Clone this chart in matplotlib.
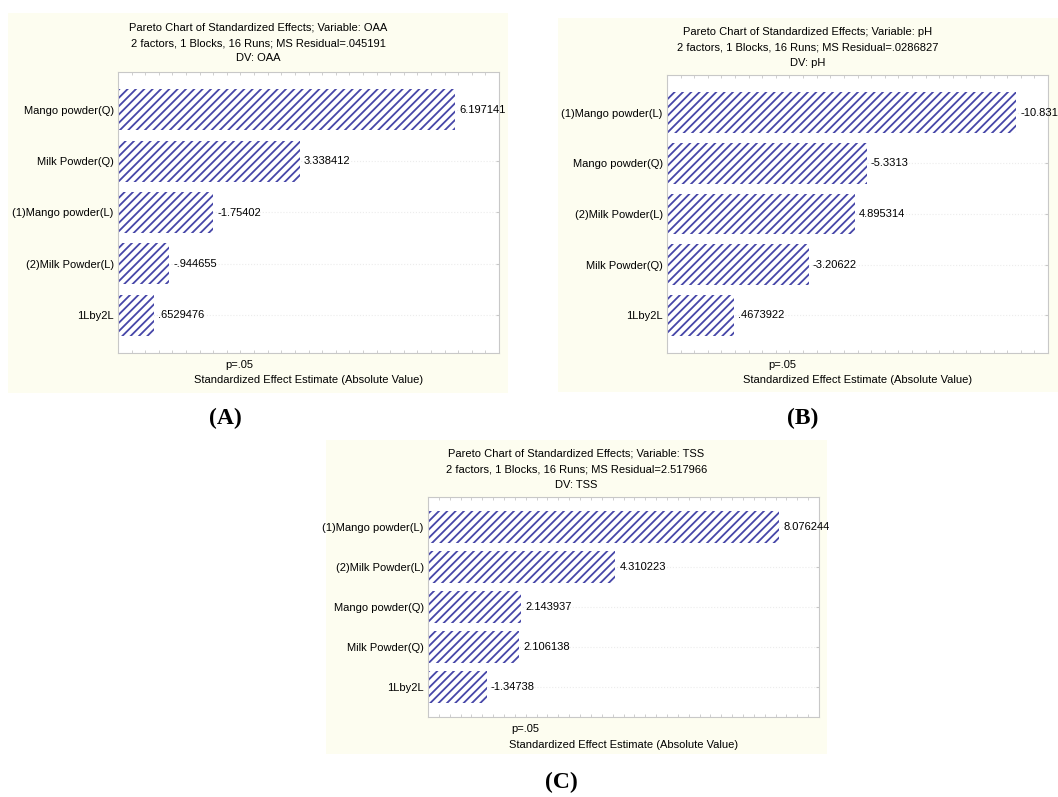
import matplotlib
matplotlib.use("Agg")
import matplotlib.pyplot as plt
from matplotlib.patches import Rectangle
from matplotlib.ticker import MultipleLocator

plt.rcParams["font.family"] = ["Liberation Sans", "DejaVu Sans"]
plt.rcParams["hatch.linewidth"] = 1.3

W, H = 1058, 797

# ---------------------------------------------------------------- data
p_crit = 2.228          # t(0.975, 10 df) -> "p=.05"

oaa_terms = ["Mango powder(Q)", "Milk Powder(Q)", "(1)Mango powder(L)",
             "(2)Milk Powder(L)", "1Lby2L"]
oaa_effects = [6.197141, 3.338412, -1.75402, -0.944655, 0.6529476]
oaa_labels = ["6.197141", "3.338412", "-1.75402", "-.944655", ".6529476"]

ph_terms = ["(1)Mango powder(L)", "Mango powder(Q)", "(2)Milk Powder(L)",
            "Milk Powder(Q)", "1Lby2L"]
ph_effects = [-10.8318, -5.3313, 4.895314, -3.20622, 0.4673922]
ph_labels = ["-10.8318", "-5.3313", "4.895314", "-3.20622", ".4673922"]

tss_terms = ["(1)Mango powder(L)", "(2)Milk Powder(L)", "Mango powder(Q)",
             "Milk Powder(Q)", "1Lby2L"]
tss_effects = [8.076244, 4.310223, 2.143937, 2.106138, -1.34738]
tss_labels = ["8.076244", "4.310223", "2.143937", "2.106138", "-1.34738"]

panels = [
    dict(var="OAA", ms=".045191", terms=oaa_terms, eff=oaa_effects,
         lab=oaa_labels, xlim=(0, 7), minor=0.25, tag="(A)",
         bg=(8, 13, 508, 393), ax=(118, 72, 499, 353), tag_xy=(225, 418)),
    dict(var="pH", ms=".0286827", terms=ph_terms, eff=ph_effects,
         lab=ph_labels, xlim=(-2, 12), minor=0.5, tag="(B)",
         bg=(558, 18, 1058, 392), ax=(667, 75, 1048, 353), tag_xy=(803, 418)),
    dict(var="TSS", ms="2.517966", terms=tss_terms, eff=tss_effects,
         lab=tss_labels, xlim=(0, 9), minor=0.25, tag="(C)",
         bg=(326, 440, 827, 754), ax=(428, 497, 819, 717), tag_xy=(561, 782)),
]

BG = "#fdfdf0"
BAR = "#4646a8"
FRAME = "#c8c8c8"
FS = 8


def fx(x):
    return x / W


def fy(y):
    return 1 - y / H


fig = plt.figure(figsize=(W / 100, H / 100), dpi=100)
fig.patch.set_facecolor("white")

for p in panels:
    bx1, by1, bx2, by2 = p["bg"]
    fig.patches.append(Rectangle((fx(bx1), fy(by2)), fx(bx2 - bx1), (by2 - by1) / H,
                                 transform=fig.transFigure, facecolor=BG,
                                 edgecolor="none", zorder=-5))
    ax1, ay1, ax2, ay2 = p["ax"]
    ax = fig.add_axes([fx(ax1), fy(ay2), fx(ax2 - ax1), (ay2 - ay1) / H])
    ax.set_facecolor("white")
    ax.set_zorder(2)

    n = len(p["terms"])
    ypos = list(range(n))
    x0 = p["xlim"][0]
    widths = [abs(v) - x0 for v in p["eff"]]
    ax.barh(ypos, widths, left=x0, height=0.8, color="white",
            edgecolor=BAR, linewidth=0, hatch="////", zorder=2)
    for y, v, s in zip(ypos, p["eff"], p["lab"]):
        ax.annotate(s, (abs(v), y), xytext=(3, 0), textcoords="offset points",
                    va="center", ha="left", fontsize=FS, annotation_clip=False)

    ax.set_xlim(*p["xlim"])
    ax.set_ylim(n - 0.26, -0.74)
    ax.set_yticks(ypos)
    ax.set_yticklabels(p["terms"], fontsize=FS)
    ax.set_xticks([p_crit])
    ax.set_xticklabels(["p=.05"], fontsize=FS)
    ax.xaxis.set_minor_locator(MultipleLocator(p["minor"]))
    ax.tick_params(axis="x", which="major", length=0, pad=5)
    ax.tick_params(axis="x", which="minor", direction="in", length=2.5,
                   color=FRAME, top=True, bottom=True)
    ax.tick_params(axis="y", which="major", direction="in", length=2.5,
                   color=FRAME, left=True, right=True, pad=3)
    ax.grid(axis="y", color="#ececec", linestyle=":", linewidth=0.8, zorder=0)
    for sp in ax.spines.values():
        sp.set_color(FRAME)
        sp.set_linewidth(0.8)
    ax.set_xlabel("Standardized Effect Estimate (Absolute Value)",
                  fontsize=FS, labelpad=4)

    cx = (bx1 + bx2) / 2
    ty = by1 + 14
    fig.text(fx(cx), fy(ty), "Pareto Chart of Standardized Effects; Variable: " + p["var"],
             ha="center", va="center", fontsize=FS)
    fig.text(fx(cx), fy(ty + 16), "2 factors, 1 Blocks, 16 Runs; MS Residual=" + p["ms"],
             ha="center", va="center", fontsize=FS)
    fig.text(fx(cx), fy(ty + 31), "DV: " + p["var"],
             ha="center", va="center", fontsize=FS)

    tx, tyy = p["tag_xy"]
    fig.text(fx(tx), fy(tyy), p["tag"], ha="center", va="center",
             fontsize=17, fontweight="bold", family=["Liberation Serif", "DejaVu Serif"])

fig.savefig("out.png", dpi=100)
